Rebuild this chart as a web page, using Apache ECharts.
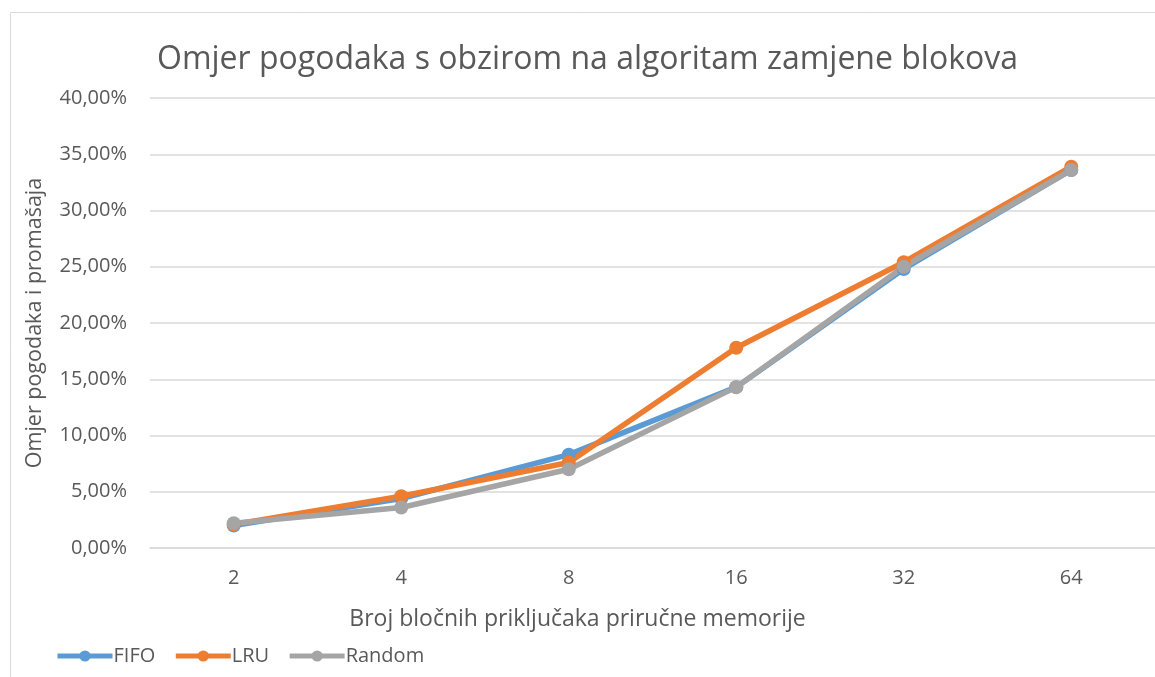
<!DOCTYPE html>
<html lang="hr">
<head>
    <meta charset="UTF-8">
    <script src="https://cdn.jsdelivr.net/npm/echarts@6/dist/echarts.min.js"></script>
    <title>Omjer pogodaka</title>
    <style>
        body { margin: 0; background: #fff; }
        #main { width: 1155px; height: 677px; }
    </style>
</head>
<body>
<div id="main"></div>
<script>
    // podaci
    var kategorije = ['2', '4', '8', '16', '32', '64'];
    var fifo = [2.0, 4.4, 8.3, 14.3, 24.8, 33.6];
    var lru = [2.1, 4.6, 7.6, 17.8, 25.4, 33.9];
    var random = [2.2, 3.6, 7.0, 14.3, 25.0, 33.6];

    var font = '"Open Sans", sans-serif';
    var siva = '#595959';

    function serija(ime, boja, podaci) {
        return {
            name: ime,
            type: 'line',
            data: podaci,
            symbol: 'circle',
            symbolSize: 14,
            lineStyle: { width: 5.5, color: boja },
            itemStyle: { color: boja },
            emphasis: { disabled: true }
        };
    }

    var myChart = echarts.init(document.getElementById('main'));
    var option = {
        animation: false,
        textStyle: { fontFamily: font },
        title: [{
            text: 'Omjer pogodaka s obzirom na algoritam zamjene blokova',
            left: 152,
            top: 39,
            textStyle: { fontFamily: font, fontSize: 32, fontWeight: 'normal', color: siva }
        }, {
            text: 'Broj bločnih priključaka priručne memorije',
            left: 'center',
            top: 603,
            textStyle: { fontFamily: font, fontSize: 23, fontWeight: 'normal', color: siva }
        }],
        graphic: [{
            type: 'rect',
            shape: { x: 10.5, y: 12.5, width: 1300, height: 800 },
            style: { fill: null, stroke: '#d9d9d9', lineWidth: 1 },
            z: -1
        }],
        legend: {
            left: 50,
            top: 641,
            itemWidth: 55,
            itemHeight: 14,
            itemGap: 18,
            lineStyle: { width: 5 },
            textStyle: { fontFamily: font, fontSize: 20, color: siva, padding: [0, 0, 0, -4] },
            data: ['FIFO', 'LRU', 'Random']
        },
        grid: { left: 150, top: 98, width: 1011, height: 450 },
        xAxis: {
            type: 'category',
            data: kategorije,
            boundaryGap: true,
            axisLine: { lineStyle: { color: '#d9d9d9', width: 1.5 } },
            axisTick: { show: false },
            axisLabel: { color: siva, fontSize: 20, margin: 20 }
        },
        yAxis: {
            type: 'value',
            min: 0,
            max: 40,
            interval: 5,
            name: 'Omjer pogodaka i promašaja',
            nameLocation: 'middle',
            nameGap: 104,
            nameTextStyle: { color: siva, fontSize: 21.5 },
            axisLine: { show: false },
            axisTick: { show: false },
            splitLine: { lineStyle: { color: '#d9d9d9', width: 1.5 } },
            axisLabel: {
                color: siva,
                fontSize: 20,
                margin: 23,
                formatter: function (v) { return v.toFixed(2).replace('.', ',') + '%'; }
            }
        },
        series: [
            serija('FIFO', '#5b9bd5', fifo),
            serija('LRU', '#ed7d31', lru),
            serija('Random', '#a5a5a5', random)
        ]
    };
    myChart.setOption(option);
</script>
</body>
</html>
